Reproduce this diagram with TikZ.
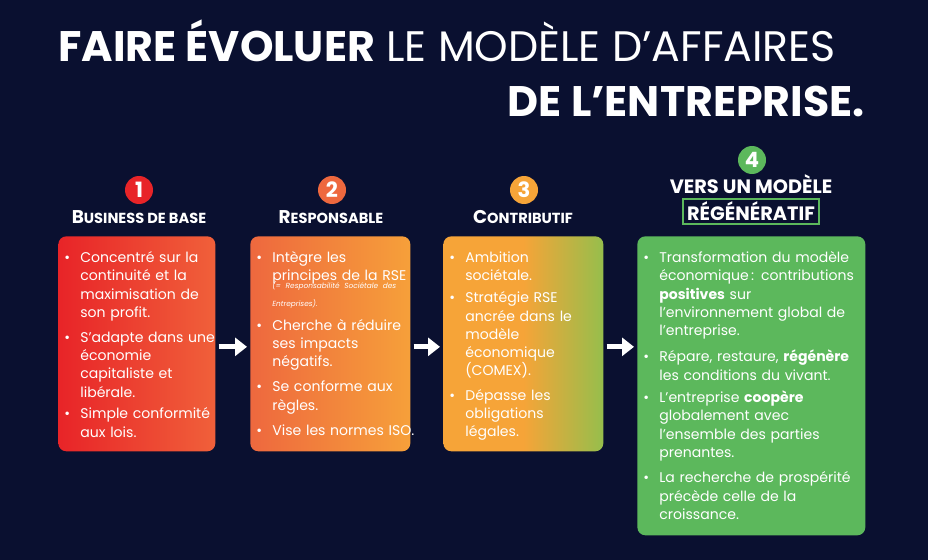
\documentclass[tikz,border=0pt]{standalone}
\usepackage{fontspec}
\setmainfont{Poppins}
\usetikzlibrary{arrows.meta,calc}
\definecolor{navy}{RGB}{10,16,48}
\definecolor{redA}{RGB}{232,36,40}
\definecolor{redB}{RGB}{240,96,58}
\definecolor{orgA}{RGB}{238,104,62}
\definecolor{orgB}{RGB}{246,160,58}
\definecolor{yelA}{RGB}{246,164,56}
\definecolor{grnB}{RGB}{150,190,76}
\definecolor{grn}{RGB}{92,184,92}
\newlength{\unitpx}\setlength{\unitpx}{0.02cm}
\newcommand{\itm}[1]{\par\noindent\makebox[22\unitpx][l]{\hspace{6\unitpx}\textbullet}\parbox[t]{6cm}{\raggedright #1}\par\vspace{9\unitpx}}
\newcommand{\scp}[2]{{\fontsize{10.5}{12}\selectfont #1}{\fontsize{8.3}{12}\selectfont #2}}
\tikzset{
  stage/.style={rounded corners=0.16cm,minimum height=4.3cm,inner sep=0pt},
  body/.style={anchor=north west,inner sep=0pt,text=white,align=left,
    font=\fontsize{8}{10.4}\selectfont},
  num/.style={circle,minimum size=0.56cm,inner sep=0pt,text=white,font=\bfseries\fontsize{12}{12}\selectfont},
  head/.style={text=white,font=\bfseries,inner sep=0pt},
  flow/.style={white,line width=0.1cm,-{Triangle[width=0.36cm,length=0.24cm]}}
}
\begin{document}
\begin{tikzpicture}[x=0.02cm,y=-0.02cm]
\fill[navy] (0,0) rectangle (928,560);
\useasboundingbox (0,0) rectangle (928,560);
% title
\node[anchor=base west,inner sep=0pt,text=white,font=\fontsize{24.3}{28}\selectfont] (t1) at (58,62)
  {\textbf{FAIRE ÉVOLUER} LE MODÈLE D’AFFAIRES};
\node[anchor=base east,inner sep=0pt,text=white,font=\bfseries\fontsize{24.3}{28}\selectfont] (t2) at (865,117)
  {DE L’ENTREPRISE.};
% boxes
\node[stage,left color=redA,right color=redB,minimum width=3.14cm,anchor=north west] (b1) at (58,236) {};
\node[stage,left color=orgA,right color=orgB,minimum width=3.2cm,anchor=north west] (b2) at (250,236) {};
\node[stage,left color=yelA,right color=grnB,middle color=yelA,minimum width=3.2cm,anchor=north west] (b3) at (443,236) {};
\node[stage,fill=grn,minimum width=4.56cm,minimum height=5.98cm,anchor=north west] (b4) at (637,236) {};
% numbers and headings
\node[num,fill=redA] (n1) at (139,190) {1};
\node[num,fill=orgA] (n2) at (332,190) {2};
\node[num,fill=yelA] (n3) at (524,190) {3};
\node[num,fill=grn] (n4) at (752,160) {4};
\node[head,anchor=base] (h1) at (139,224) {\scp{B}{USINESS DE BASE}};
\node[head,anchor=base] (h2) at (331,224) {\scp{R}{ESPONSABLE}};
\node[head,anchor=base] (h3) at (523,224) {\scp{C}{ONTRIBUTIF}};
\node[head,anchor=base,font=\bfseries\fontsize{11}{12}\selectfont] (h4) at (751,194) {VERS UN MODÈLE};
\node[head,anchor=base,draw=grn,line width=1.5pt,inner xsep=0.08cm,inner ysep=0.06cm,
  font=\bfseries\fontsize{11}{12}\selectfont] (h5) at (751,221) {RÉGÉNÉRATIF};
% texts
\node[body,text width=3.04cm] (x1) at (58,244) {%
\itm{Concentré sur la\\continuité et la\\maximisation de\\son profit.}
\itm{S’adapte dans une\\économie\\capitaliste et\\libérale.}
\itm{Simple conformité\\aux lois.}};
\node[body,text width=3.12cm] (x2) at (250,244) {%
\itm{Intègre les\\principes de la RSE\\[-0.1cm]{\fontsize{4.2}{4.6}\selectfont\itshape\mbox{(= Responsabilité Sociétale des}\\Entreprises).}}
\itm{Cherche à réduire\\ses impacts\\négatifs.}
\itm{Se conforme aux\\règles.}
\itm{Vise les normes ISO.}};
\node[body,text width=3.12cm] (x3) at (443,244) {%
\itm{Ambition\\sociétale.}
\itm{Stratégie RSE\\ancrée dans le\\modèle\\économique\\(COMEX).}
\itm{Dépasse les\\obligations\\légales.}};
\node[body,text width=4.48cm] (x4) at (637,244) {%
\itm{Transformation du modèle\\économique\,: contributions\\\textbf{positives} sur\\l’environnement global de\\l’entreprise.}
\itm{Répare, restaure, \textbf{régénère}\\les conditions du vivant.}
\itm{L’entreprise \textbf{coopère}\\globalement avec\\l’ensemble des parties\\prenantes.}
\itm{La recherche de prospérité\\précède celle de la\\croissance.}};
% arrows
\draw[flow] ($(b1.east)+(3,3)$) -- ($(b2.west)+(-3,3)$);
\draw[flow] ($(b2.east)+(3,3)$) -- ($(b3.west)+(-3,3)$);
\draw[flow] ($(b3.east)+(3,3)$) -- ($(b3.east-|b4.west)+(-3,3)$);
\end{tikzpicture}
\end{document}
